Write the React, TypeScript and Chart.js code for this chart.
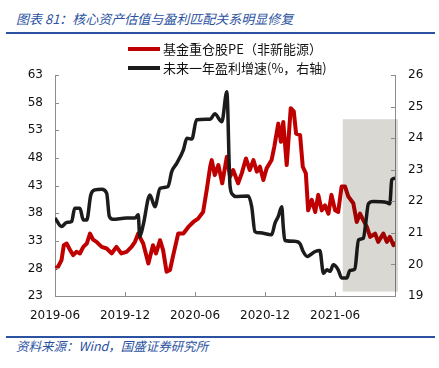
import React, { useEffect, useRef } from "react";
import { Chart, registerables } from "chart.js";
Chart.register(...registerables);

const titleText = "图表 81：核心资产估值与盈利匹配关系明显修复";
const sourceText = "资料来源：Wind，国盛证券研究所";
const peLabel = "基金重仓股PE（非新能源）";
const growthLabel = "未来一年盈利增速(%，右轴)";

const xTickLabels = ["2019-06", "2019-12", "2020-06", "2020-12", "2021-06"];

const peDates = [
  "2019-06-01", "2019-06-09", "2019-06-18", "2019-06-24", "2019-07-01", "2019-07-10", "2019-07-18", "2019-07-27",
  "2019-08-05", "2019-08-14", "2019-08-23", "2019-09-01", "2019-09-09", "2019-09-18", "2019-10-01", "2019-10-14",
  "2019-10-27", "2019-11-09", "2019-11-22", "2019-12-05", "2019-12-18", "2019-12-27", "2020-01-05", "2020-01-09",
  "2020-01-18", "2020-02-01", "2020-02-13", "2020-02-21", "2020-03-01", "2020-03-09", "2020-03-18", "2020-03-27",
  "2020-04-05", "2020-04-18", "2020-05-01", "2020-05-14", "2020-05-27", "2020-06-09", "2020-06-22", "2020-07-01",
  "2020-07-10", "2020-07-14", "2020-07-22", "2020-08-01", "2020-08-11", "2020-08-23", "2020-09-01", "2020-09-09",
  "2020-09-22", "2020-10-01", "2020-10-12", "2020-10-22", "2020-11-01", "2020-11-10", "2020-11-18", "2020-11-27",
  "2020-12-05", "2020-12-18", "2020-12-25", "2021-01-05", "2021-01-12", "2021-01-18", "2021-01-27", "2021-02-07",
  "2021-02-15", "2021-02-21", "2021-03-01", "2021-03-08", "2021-03-16", "2021-03-22", "2021-04-01", "2021-04-10",
  "2021-04-18", "2021-04-27", "2021-05-05", "2021-05-14", "2021-05-22", "2021-06-01", "2021-06-09", "2021-06-18",
  "2021-06-27", "2021-07-05", "2021-07-18", "2021-07-27", "2021-08-05", "2021-08-14", "2021-08-23", "2021-09-01",
  "2021-09-14", "2021-09-22", "2021-10-05", "2021-10-14", "2021-10-22", "2021-11-01", "2021-11-05",
];
const peValues = [
  28.0, 28.3, 29.5, 32.2, 32.5, 31.3, 30.4, 31.0,
  30.7, 31.9, 32.5, 34.3, 33.2, 32.8, 31.9, 31.6,
  30.7, 31.9, 30.7, 31.0, 31.9, 32.8, 34.3, 33.7,
  32.5, 28.9, 32.2, 30.7, 33.1, 31.3, 27.4, 27.7,
  30.4, 34.3, 34.3, 35.5, 36.4, 37.0, 38.2, 42.2,
  46.4, 47.6, 44.9, 46.7, 43.4, 48.2, 44.6, 45.8,
  43.4, 45.2, 47.9, 45.8, 47.6, 45.5, 46.4, 44.0,
  46.1, 47.6, 50.0, 54.2, 50.9, 54.5, 46.7, 57.0,
  56.4, 52.4, 52.1, 46.4, 45.2, 38.5, 40.4, 38.2,
  41.3, 38.5, 39.4, 37.9, 41.3, 38.5, 38.2, 42.8,
  42.8, 41.0, 39.8, 36.4, 37.9, 36.7, 35.5, 33.7,
  34.3, 32.8, 34.3, 32.8, 33.7, 32.2, 32.8,
];

const growthDates = [
  "2019-06-01", "2019-06-18", "2019-07-01", "2019-07-14", "2019-07-22", "2019-08-05", "2019-08-14", "2019-08-23",
  "2019-09-03", "2019-09-14", "2019-10-01", "2019-10-14", "2019-10-21", "2019-10-30", "2019-12-05", "2019-12-27",
  "2020-01-05", "2020-01-09", "2020-01-18", "2020-02-05", "2020-02-18", "2020-03-01", "2020-03-22", "2020-04-01",
  "2020-04-14", "2020-05-01", "2020-05-10", "2020-05-23", "2020-06-05", "2020-07-10", "2020-07-22", "2020-08-10",
  "2020-08-23", "2020-09-01", "2020-09-09", "2020-09-14", "2020-10-18", "2020-10-27", "2020-11-05", "2020-11-18",
  "2020-12-18", "2020-12-27", "2021-01-05", "2021-01-14", "2021-01-18", "2021-01-22", "2021-02-21", "2021-03-01",
  "2021-03-09", "2021-03-20", "2021-03-27", "2021-04-10", "2021-04-22", "2021-05-01", "2021-05-10", "2021-05-18",
  "2021-05-27", "2021-06-09", "2021-06-18", "2021-07-01", "2021-07-09", "2021-07-22", "2021-08-01", "2021-08-14",
  "2021-08-20", "2021-08-27", "2021-09-09", "2021-10-14", "2021-10-22", "2021-10-27", "2021-11-05",
];
const growthValues = [
  21.47, 21.2, 21.33, 21.36, 21.78, 21.78, 21.41, 21.41,
  22.2, 22.36, 22.38, 22.26, 21.52, 21.43, 21.47, 21.47,
  21.57, 20.88, 21.25, 22.2, 21.83, 22.41, 22.47, 22.94,
  23.2, 23.63, 24.0, 23.97, 24.58, 24.6, 24.77, 24.52,
  25.47, 22.47, 22.2, 22.15, 22.17, 21.83, 21.04, 21.0,
  20.94, 21.31, 21.52, 21.83, 21.2, 20.76, 20.73, 20.65,
  20.41, 20.25, 20.3, 20.41, 20.44, 19.72, 19.83, 19.78,
  19.99, 19.83, 19.57, 19.57, 19.81, 19.85, 20.78, 20.83,
  21.31, 21.92, 21.99, 21.96, 21.92, 22.68, 22.73,
];

const shadeDates = ["2021-06-21", "2021-11-13"];
const shadeLeftValues = [23.8, 55];

function monthIndex(s: string): number {
  const [y, m, d] = s.split("-").map(Number);
  return (y - 2019) * 12 + (m - 6) + ((d || 1) - 1) / 30.5;
}

const RED = "#c00000";
const BLACK = "#1c1c1c";
const AXIS = "#8c8c8c";
const BLUE = "#2a52a0";

const decor = {
  id: "decor",
  afterDatasetsDraw(chart: any) {
    const { ctx } = chart;
    const x = chart.scales.x;
    const y = chart.scales.yL;
    const x0 = x.getPixelForValue(monthIndex(shadeDates[0]));
    const x1 = x.getPixelForValue(monthIndex(shadeDates[1]));
    const yTop = y.getPixelForValue(shadeLeftValues[1]);
    const yBot = y.getPixelForValue(shadeLeftValues[0]);
    ctx.save();
    ctx.globalCompositeOperation = "multiply";
    ctx.fillStyle = "rgb(217,216,211)";
    ctx.fillRect(x0, yTop, x1 - x0, yBot - yTop);
    ctx.restore();
  },
  afterDraw(chart: any) {
    const { ctx, chartArea } = chart;
    const { left, right, bottom } = chartArea;
    ctx.save();
    ctx.strokeStyle = AXIS;
    ctx.lineWidth = 1;
    ctx.beginPath();
    chart.scales.yL.ticks.forEach((t: any) => {
      const py = Math.round(chart.scales.yL.getPixelForValue(t.value)) + 0.5;
      ctx.moveTo(left, py);
      ctx.lineTo(left + 4, py);
    });
    chart.scales.yR.ticks.forEach((t: any) => {
      const py = Math.round(chart.scales.yR.getPixelForValue(t.value)) + 0.5;
      ctx.moveTo(right - 4, py);
      ctx.lineTo(right, py);
    });
    chart.scales.x.ticks.forEach((t: any) => {
      const px = Math.round(chart.scales.x.getPixelForValue(t.value)) + 0.5;
      ctx.moveTo(px, bottom);
      ctx.lineTo(px, bottom - 4);
    });
    ctx.stroke();

    // legend
    const items = [
      { label: peLabel, color: RED },
      { label: growthLabel, color: BLACK },
    ];
    ctx.font = "13px 'Noto Sans CJK SC'";
    ctx.textBaseline = "middle";
    ctx.textAlign = "left";
    items.forEach((it, i) => {
      const ly = 13 + i * 19;
      ctx.strokeStyle = it.color;
      ctx.lineWidth = 4;
      ctx.beginPath();
      ctx.moveTo(128, ly);
      ctx.lineTo(160, ly);
      ctx.stroke();
      ctx.fillStyle = "#111";
      ctx.fillText(it.label, 163, ly);
    });
    ctx.restore();
  },
};

function ChartView() {
  const ref = useRef<HTMLCanvasElement | null>(null);
  useEffect(() => {
    if (!ref.current) return;
    const tickFont = { family: "'DejaVu Sans'", size: 12 };
    const chart = new Chart(ref.current, {
      type: "line",
      data: {
        datasets: [
          {
            label: peLabel,
            data: peDates.map((d, i) => ({ x: monthIndex(d), y: peValues[i] })),
            borderColor: RED,
            backgroundColor: RED,
            borderWidth: 4,
            pointRadius: 0,
            tension: 0,
            borderJoinStyle: "round",
            yAxisID: "yL",
            order: 1,
          },
          {
            label: growthLabel,
            data: growthDates.map((d, i) => ({ x: monthIndex(d), y: growthValues[i] })),
            borderColor: BLACK,
            backgroundColor: BLACK,
            borderWidth: 3.5,
            pointRadius: 0,
            cubicInterpolationMode: "monotone",
            borderJoinStyle: "round",
            yAxisID: "yR",
            order: 0,
          },
        ],
      },
      options: {
        responsive: false,
        animation: false,
        devicePixelRatio: 1,
        layout: { padding: { top: 39, left: 0, right: 0, bottom: 0 } },
        plugins: { legend: { display: false }, tooltip: { enabled: false } },
        scales: {
          x: {
            type: "linear",
            min: monthIndex(peDates[0]),
            max: monthIndex(peDates[peDates.length - 1]),
            afterBuildTicks: (s: any) => {
              s.ticks = xTickLabels.map((l) => ({ value: monthIndex(l + "-01") }));
            },
            afterFit: (s: any) => {
              s.height = 40;
            },
            ticks: {
              callback: (v: any) => {
                const idx = xTickLabels.findIndex((l) => Math.abs(monthIndex(l + "-01") - v) < 0.01);
                return idx >= 0 ? xTickLabels[idx] : "";
              },
              font: tickFont,
              color: "#111",
              padding: 13,
              maxRotation: 0,
              autoSkip: false,
            },
            grid: { display: true, drawOnChartArea: false, drawTicks: false },
            border: { display: true, color: AXIS, width: 1 },
          },
          yL: {
            position: "left",
            min: 23,
            max: 63,
            ticks: { stepSize: 5, font: tickFont, color: "#111", padding: 12 },
            afterFit: (s: any) => {
              s.width = 55;
            },
            grid: { display: true, drawOnChartArea: false, drawTicks: false },
            border: { display: true, color: AXIS, width: 1 },
          },
          yR: {
            position: "right",
            min: 19,
            max: 26,
            ticks: { stepSize: 1, font: tickFont, color: "#111", padding: 13 },
            afterFit: (s: any) => {
              s.width = 44;
            },
            grid: { display: true, drawOnChartArea: false, drawTicks: false },
            border: { display: true, color: AXIS, width: 1 },
          },
        },
      } as any,
      plugins: [decor],
    });
    return () => chart.destroy();
  }, []);
  return (
    <canvas
      ref={ref}
      width={439}
      height={300}
      style={{ position: "absolute", left: 0, top: 36, width: 439, height: 300 }}
    />
  );
}

export default function App() {
  return (
    <div
      style={{
        position: "absolute",
        left: 0,
        top: 0,
        width: 439,
        height: 368,
        background: "#fff",
        overflow: "hidden",
      }}
    >
      <div
        style={{
          position: "absolute",
          left: 16,
          top: 10,
          font: "italic 13px 'Noto Sans CJK SC'",
          lineHeight: "18px",
          color: BLUE,
          whiteSpace: "nowrap",
        }}
      >
        {titleText}
      </div>
      <div style={{ position: "absolute", left: 6, top: 32, width: 429, height: 2, background: BLUE }} />
      <ChartView />
      <div style={{ position: "absolute", left: 6, top: 336, width: 429, height: 2, background: BLUE }} />
      <div
        style={{
          position: "absolute",
          left: 16,
          top: 338,
          font: "italic 12.5px 'Noto Sans CJK SC'",
          lineHeight: "15px",
          color: BLUE,
          whiteSpace: "nowrap",
        }}
      >
        {sourceText}
      </div>
    </div>
  );
}
